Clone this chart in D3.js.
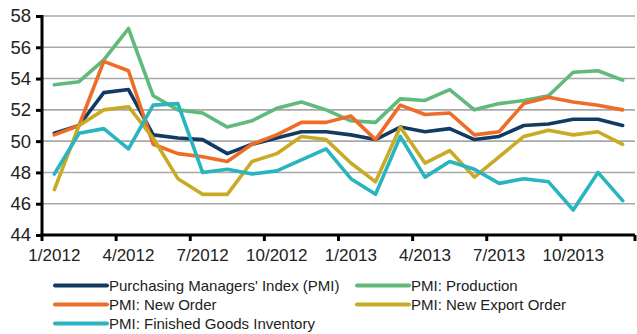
<!DOCTYPE html>
<html>
<head>
<meta charset="utf-8">
<script src="https://cdn.jsdelivr.net/npm/d3@7"></script>
<style>
  html, body { margin: 0; padding: 0; background: #fff; }
  svg { display: block; font-family: "Liberation Sans", Arial, sans-serif; }
</style>
</head>
<body>
<svg id="chart" width="637" height="334"></svg>
<script>
// Monthly categories, Jan 2012 – Dec 2013
const months = [
  "1/2012","2/2012","3/2012","4/2012","5/2012","6/2012",
  "7/2012","8/2012","9/2012","10/2012","11/2012","12/2012",
  "1/2013","2/2013","3/2013","4/2013","5/2013","6/2013",
  "7/2013","8/2013","9/2013","10/2013","11/2013","12/2013"
];

// Index readings per series
const pmi = [50.5, 51.0, 53.1, 53.3, 50.4, 50.2, 50.1, 49.2, 49.8, 50.2, 50.6, 50.6,
             50.4, 50.1, 50.9, 50.6, 50.8, 50.1, 50.3, 51.0, 51.1, 51.4, 51.4, 51.0];
const production = [53.6, 53.8, 55.2, 57.2, 52.9, 52.0, 51.8, 50.9, 51.3, 52.1, 52.5, 52.0,
                    51.3, 51.2, 52.7, 52.6, 53.3, 52.0, 52.4, 52.6, 52.9, 54.4, 54.5, 53.9];
const newOrder = [50.4, 51.0, 55.1, 54.5, 49.8, 49.2, 49.0, 48.7, 49.8, 50.4, 51.2, 51.2,
                  51.6, 50.1, 52.3, 51.7, 51.8, 50.4, 50.6, 52.4, 52.8, 52.5, 52.3, 52.0];
const newExportOrder = [46.9, 51.0, 52.0, 52.2, 50.2, 47.6, 46.6, 46.6, 48.7, 49.2, 50.3, 50.1,
                        48.6, 47.4, 50.9, 48.6, 49.4, 47.7, 49.0, 50.3, 50.7, 50.4, 50.6, 49.8];
const finishedGoods = [47.9, 50.5, 50.8, 49.5, 52.3, 52.4, 48.0, 48.2, 47.9, 48.1, 48.8, 49.5,
                       47.6, 46.6, 50.3, 47.7, 48.7, 48.2, 47.3, 47.6, 47.4, 45.6, 48.0, 46.2];

const yTicks = [44, 46, 48, 50, 52, 54, 56, 58];
const xTickLabels = ["1/2012","4/2012","7/2012","10/2012","1/2013","4/2013","7/2013","10/2013"];

// Series in drawing order (later ones paint on top)
const series = [
  { name: "Purchasing Managers' Index (PMI)", values: pmi, color: "#113b62" },
  { name: "PMI: Production", values: production, color: "#5fba7b" },
  { name: "PMI: New Order", values: newOrder, color: "#ee6c27" },
  { name: "PMI: New Export Order", values: newExportOrder, color: "#c9aa25" },
  { name: "PMI: Finished Goods Inventory", values: finishedGoods, color: "#28b5c0" }
];

const svg = d3.select("#chart");
const plotLeft = 42, plotRight = 635, plotTop = 16, plotBottom = 235;

const x = d3.scaleBand().domain(months).range([plotLeft, plotRight]).padding(0);
const y = d3.scaleLinear().domain([44, 58]).range([plotBottom, plotTop]);
const cx = m => x(m) + x.bandwidth() / 2;

// Horizontal gridlines
svg.append("g")
  .selectAll("line")
  .data(yTicks.filter(t => t !== 44))
  .join("line")
  .attr("x1", plotLeft).attr("x2", plotRight)
  .attr("y1", d => y(d)).attr("y2", d => y(d))
  .attr("stroke", "#a8a8a8")
  .attr("stroke-width", 1.6);

// Series lines
const line = d3.line()
  .x((d, i) => cx(months[i]))
  .y(d => y(d));

svg.append("g")
  .selectAll("path")
  .data(series)
  .join("path")
  .attr("d", s => line(s.values))
  .attr("fill", "none")
  .attr("stroke", s => s.color)
  .attr("stroke-width", 3.6)
  .attr("stroke-linejoin", "round")
  .attr("stroke-linecap", "round");

// Y axis
const yAxis = svg.append("g")
  .attr("transform", `translate(${plotLeft},0)`)
  .call(d3.axisLeft(y).tickValues(yTicks).tickSize(6).tickPadding(5).tickFormat(d3.format("d")));
yAxis.select(".domain").attr("stroke", "#000").attr("stroke-width", 3).attr("d", `M0,${plotTop - 1}V${plotBottom}`);
yAxis.selectAll(".tick line").attr("stroke", "#000").attr("stroke-width", 3);
yAxis.selectAll(".tick text")
  .attr("fill", "#222")
  .style("font-size", "18.5px")
  .style("font-family", "'Liberation Sans', Arial, sans-serif");

// X axis: labels centred on their month, tick marks on quarter boundaries
const xAxis = svg.append("g")
  .attr("transform", `translate(0,${plotBottom})`)
  .call(d3.axisBottom(x).tickValues(xTickLabels).tickSize(0).tickPadding(14));
xAxis.select(".domain").remove();
xAxis.selectAll(".tick text")
  .attr("fill", "#222")
  .style("font-size", "17px")
  .style("font-family", "'Liberation Sans', Arial, sans-serif");

const boundaries = months.filter((m, i) => i % 3 === 0).map(m => x(m)).concat([x.range()[1]]);
svg.append("line")
  .attr("x1", plotLeft - 1.5).attr("x2", plotRight)
  .attr("y1", plotBottom).attr("y2", plotBottom)
  .attr("stroke", "#000").attr("stroke-width", 3);
svg.append("g")
  .selectAll("line")
  .data(boundaries)
  .join("line")
  .attr("x1", d => d).attr("x2", d => d)
  .attr("y1", plotBottom).attr("y2", plotBottom + 6)
  .attr("stroke", "#000").attr("stroke-width", 3);

// Legend: two columns, filled row by row
const legendCols = [55, 357];
const legendRows = [285.5, 304.5, 323.5];
const legend = svg.append("g")
  .selectAll("g")
  .data(series)
  .join("g")
  .attr("transform", (d, i) => `translate(${legendCols[i % 2]},${legendRows[Math.floor(i / 2)]})`);
legend.append("line")
  .attr("x1", 0).attr("x2", 52)
  .attr("stroke", d => d.color)
  .attr("stroke-width", 4)
  .attr("stroke-linecap", "round");
legend.append("text")
  .attr("x", 54)
  .attr("dy", "0.35em")
  .attr("fill", "#222")
  .style("font-size", "15px")
  .text(d => d.name);
</script>
</body>
</html>
